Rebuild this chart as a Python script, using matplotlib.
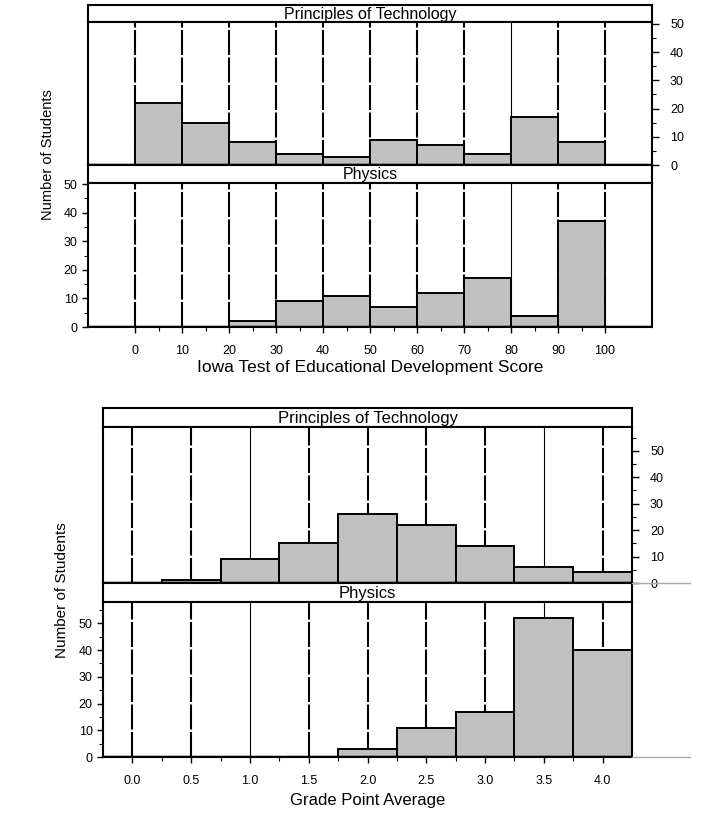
import matplotlib
matplotlib.use("Agg")
import matplotlib.pyplot as plt
import numpy as np
from matplotlib.lines import Line2D

plt.rcParams['font.family'] = ['Liberation Sans', 'DejaVu Sans']

# ITED score histograms (bins of 10)
ited_edges = [0, 10, 20, 30, 40, 50, 60, 70, 80, 90, 100]
ited_pot = [22, 15, 8, 4, 3, 9, 7, 4, 17, 8]
ited_phys = [0, 0, 2, 9, 11, 7, 12, 17, 4, 37]
ited_ticks = [0, 10, 20, 30, 40, 50, 60, 70, 80, 90, 100]

# GPA histograms (bins of 0.5, centred on 0.0, 0.5, ...)
gpa_centers = [0.0, 0.5, 1.0, 1.5, 2.0, 2.5, 3.0, 3.5, 4.0]
gpa_pot = [0, 1, 9, 15, 26, 22, 14, 6, 4]
gpa_phys = [0, 0, 0, 0, 3, 11, 17, 52, 40]

W, H = 712, 817
fig = plt.figure(figsize=(W / 100, H / 100), dpi=100)


def pax(x0, x1, y0, y1):
    # axes from pixel box (top-left origin)
    return fig.add_axes([x0 / W, 1 - y1 / H, (x1 - x0) / W, (y1 - y0) / H])


def header(x0, x1, y0, y1, text, fs):
    ax = pax(x0, x1, y0, y1)
    ax.set_xticks([])
    ax.set_yticks([])
    for s in ax.spines.values():
        s.set_linewidth(1.5)
    ax.text(0.5, 0.45, text, ha='center', va='center', fontsize=fs,
            transform=ax.transAxes)
    return ax


def panel(ax, lefts, width, counts, vlines, thin, xlim, ylim):
    ax.set_xlim(*xlim)
    ax.set_ylim(*ylim)
    for v in vlines:
        if v in thin:
            ax.axvline(v, color='black', lw=0.8, zorder=0)
        else:
            ax.axvline(v, color='black', lw=1.5, ls=(0, (12, 1.2)), zorder=0)
    ax.bar(lefts, counts, width=width, align='edge', color='#c0c0c0',
           edgecolor='black', lw=1.4, zorder=2)
    ax.axhline(0, color='black', lw=2.5, zorder=3)
    for s in ax.spines.values():
        s.set_linewidth(1.5)


# ---------- top chart: ITED ----------
header(88, 652, 5, 22, 'Principles of Technology', 11.5)
ax1 = pax(88, 652, 22, 165)
panel(ax1, ited_edges[:-1], 10, ited_pot, ited_ticks, [80], (-10, 110), (0, 50.7))
ax1.set_xticks([])
ax1.yaxis.tick_right()
ax1.set_yticks([0, 10, 20, 30, 40, 50])
ax1.set_yticks(np.arange(5, 50, 5), minor=True)
ax1.tick_params(axis='y', which='major', length=5, width=1, labelsize=9, pad=8)
ax1.tick_params(axis='y', which='minor', length=3, width=0.8)

header(88, 652, 165, 183, 'Physics', 11.5)
ax2 = pax(88, 652, 183, 327)
panel(ax2, ited_edges[:-1], 10, ited_phys, ited_ticks, [80], (-10, 110), (0, 50.4))
ax2.set_xticks(ited_ticks)
ax2.set_xticks(np.arange(5, 100, 10), minor=True)
ax2.set_yticks([0, 10, 20, 30, 40, 50])
ax2.set_yticks(np.arange(5, 50, 5), minor=True)
ax2.tick_params(which='major', length=4, width=1, labelsize=9)
ax2.tick_params(which='minor', length=3, width=0.8)
ax2.tick_params(axis='x', pad=9)
ax2.set_xlabel('Iowa Test of Educational Development Score', fontsize=12.5,
               labelpad=2)
fig.text(48 / W, 1 - 155 / H, 'Number of Students', rotation=90,
         ha='center', va='center', fontsize=10.5)

# ---------- bottom chart: GPA ----------
gpa_lefts = [c - 0.25 for c in gpa_centers]
header(103, 632, 408, 427, 'Principles of Technology', 12)
ax3 = pax(103, 632, 427, 583)
panel(ax3, gpa_lefts, 0.5, gpa_pot, gpa_centers, [1.0, 3.5], (-0.25, 4.25), (0, 59))
ax3.set_xticks([])
ax3.yaxis.tick_right()
ax3.set_yticks([0, 10, 20, 30, 40, 50])
ax3.set_yticks(np.arange(5, 60, 5), minor=True)
ax3.tick_params(axis='y', which='major', length=5, width=1, labelsize=9, pad=8)
ax3.tick_params(axis='y', which='minor', length=3, width=0.8)

header(103, 632, 583, 602, 'Physics', 12)
ax4 = pax(103, 632, 602, 757)
panel(ax4, gpa_lefts, 0.5, gpa_phys, gpa_centers, [1.0, 3.5], (-0.25, 4.25), (0, 58))
ax4.set_xticks(gpa_centers)
ax4.set_xticklabels(['%.1f' % c for c in gpa_centers])
ax4.set_xticks(np.arange(0.25, 4.25, 0.5), minor=True)
ax4.set_yticks([0, 10, 20, 30, 40, 50])
ax4.set_yticks(np.arange(5, 60, 5), minor=True)
ax4.tick_params(which='major', length=4, width=1, labelsize=9)
ax4.tick_params(which='minor', length=3, width=0.8)
ax4.tick_params(axis='x', pad=9)
ax4.set_xlabel('Grade Point Average', fontsize=12, labelpad=4)
fig.text(62 / W, 1 - 590 / H, 'Number of Students', rotation=90,
         ha='center', va='center', fontsize=11)

# grey baseline extensions on the right of the GPA chart
for yp in (583, 757):
    fig.add_artist(Line2D([632 / W, 690 / W], [1 - yp / H, 1 - yp / H],
                          color='#aaaaaa', lw=1))

fig.savefig('out.png', dpi=100)
